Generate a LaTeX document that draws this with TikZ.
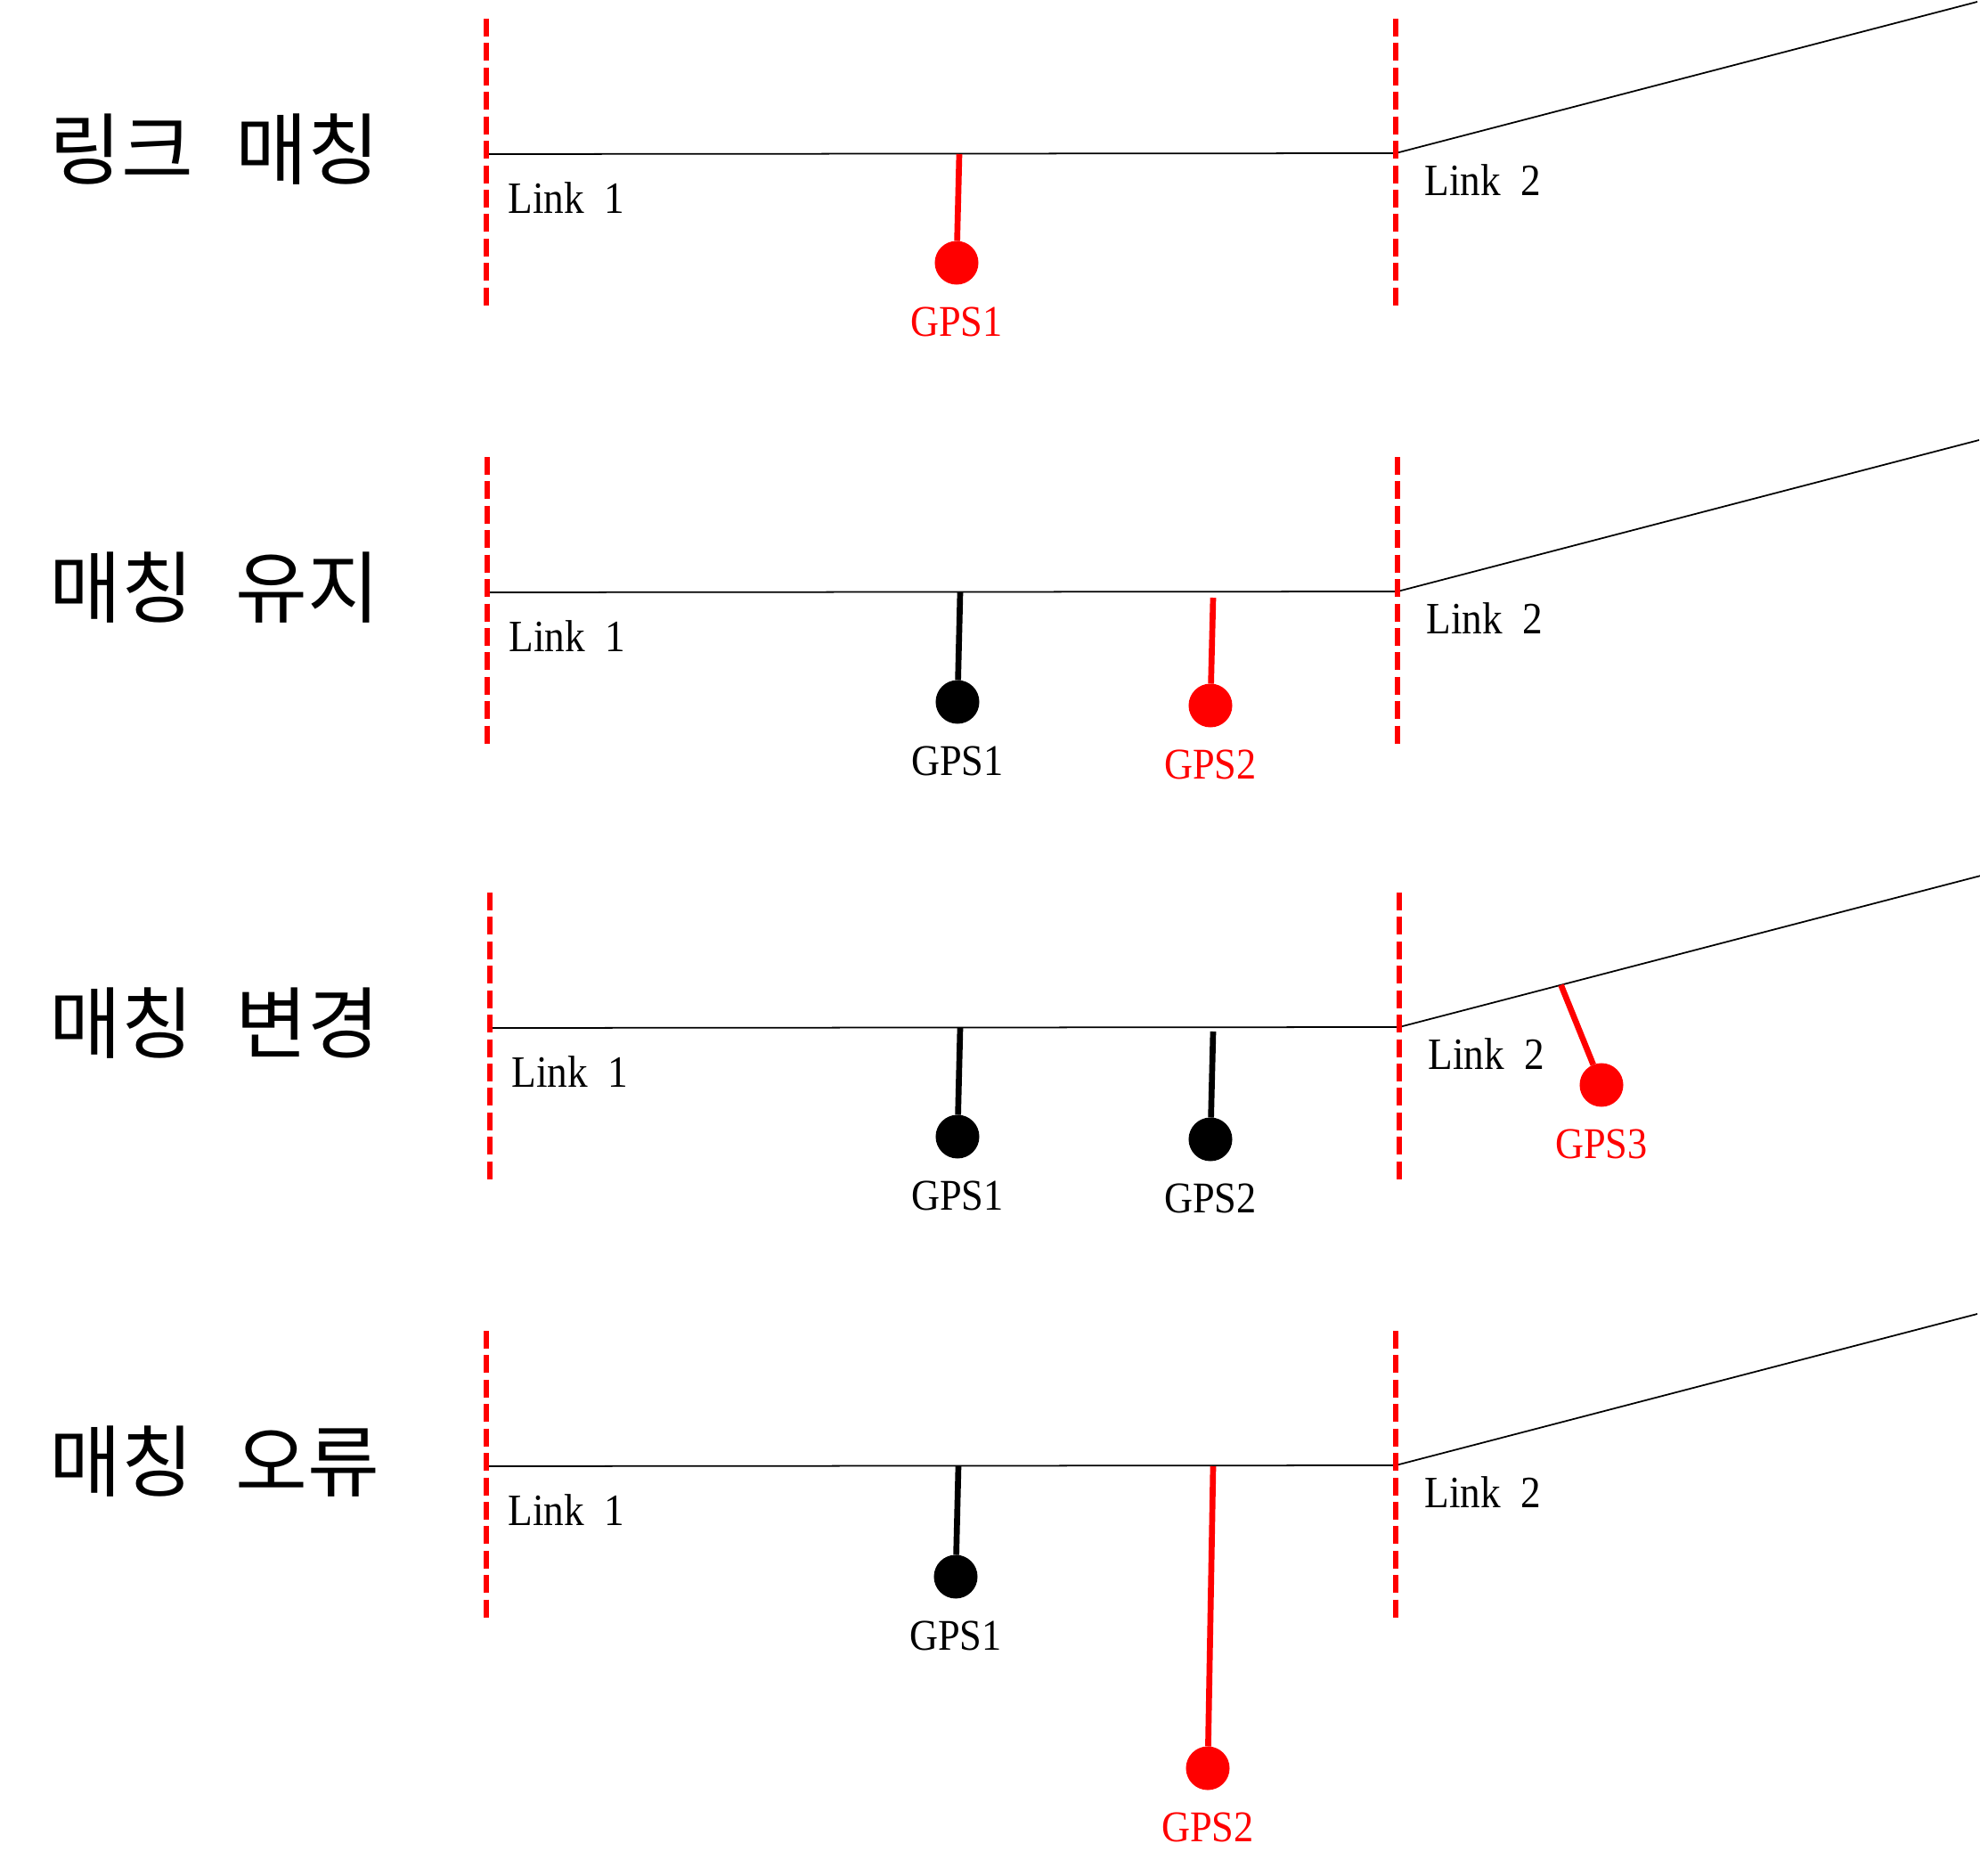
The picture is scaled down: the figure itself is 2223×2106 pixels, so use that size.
\documentclass[tikz,border=0pt]{standalone}
\usepackage{fontspec}
\setmainfont{Liberation Serif}[FakeStretch=0.9]
\newfontfamily\hangul{Noto Sans CJK KR}
\usetikzlibrary{positioning,calc}

\begin{document}
\begin{tikzpicture}[x=0.01cm, y=-0.01cm,
    linkline/.style={line width=0.5pt},
    cutline/.style={red, line width=1.9pt, dash pattern=on 5.7pt off 2.1pt},
    gpsstem/.style={line width=1.9pt},
    gpsdot/.style={circle, fill, inner sep=0pt, outer sep=0pt, minimum size=0.49cm},
    gpslbl/.style={inner sep=0pt, font=\fontsize{14}{16}\selectfont},
    linklbl/.style={inner sep=0pt, font=\fontsize{14.3}{16}\selectfont},
    paneltitle/.style={inner sep=0pt, anchor=west, font=\hangul\fontsize{25}{28}\selectfont}]
  \useasboundingbox (0,0) rectangle (2223,2106);

  % Links and link borders of each panel
  \foreach \i/\y/\xl/\xr/\ta/\tb in {1/173/546/1567/링크/매칭,
                                     2/665/547/1569/매칭/유지,
                                     3/1154/550/1571/매칭/변경,
                                     4/1646/546/1567/매칭/오류}
  {
    \node[paneltitle] (t\i) at (55,\y-5) {\ta\hspace{0.47cm}\tb};
    \coordinate (a\i) at (\xl,\y);
    \coordinate (b\i) at (\xr,\y-1);
    \coordinate (e\i) at (\xr+653,\y-171);
    \draw[linkline] (a\i) -- (b\i) -- (e\i);
    \draw[cutline] (\xl,\y-152) -- (\xl,\y+170);
    \draw[cutline] (\xr,\y-152) -- (\xr,\y+170);
    \node[linklbl, below right=0.31cm and 0.24cm of a\i] (la\i) {Link\ \ 1};
    \node[linklbl, below right=0.12cm and 0.32cm of b\i] (lb\i) {Link\ \ 2};
  }

  % 링크 매칭
  \coordinate (p11) at (1077,173);
  \node[gpsdot, red] (g11) at (1074,295) {};
  \draw[gpsstem, red] (p11) -- (g11);
  \node[gpslbl, red, below=0.25cm of g11] (n11) {GPS1};

  % 매칭 유지
  \coordinate (p21) at (1078,665);
  \node[gpsdot] (g21) at (1075,788) {};
  \draw[gpsstem] (p21) -- (g21);
  \node[gpslbl, below=0.25cm of g21] (n21) {GPS1};
  \coordinate (p22) at (1362,671);
  \node[gpsdot, red] (g22) at (1359,792) {};
  \draw[gpsstem, red] (p22) -- (g22);
  \node[gpslbl, red, below=0.25cm of g22] (n22) {GPS2};

  % 매칭 변경
  \coordinate (p31) at (1078,1154);
  \node[gpsdot] (g31) at (1075,1276) {};
  \draw[gpsstem] (p31) -- (g31);
  \node[gpslbl, below=0.25cm of g31] (n31) {GPS1};
  \coordinate (p32) at (1362,1158);
  \node[gpsdot] (g32) at (1359,1279) {};
  \draw[gpsstem] (p32) -- (g32);
  \node[gpslbl, below=0.25cm of g32] (n32) {GPS2};
  \coordinate (p33) at ($(b3)!0.278!(e3)$);
  \node[gpsdot, red] (g33) at (1798,1218) {};
  \draw[gpsstem, red] (p33) -- (g33);
  \node[gpslbl, red, below=0.25cm of g33] (n33) {GPS3};

  % 매칭 오류
  \coordinate (p41) at (1076,1646);
  \node[gpsdot] (g41) at (1073,1770) {};
  \draw[gpsstem] (p41) -- (g41);
  \node[gpslbl, below=0.25cm of g41] (n41) {GPS1};
  \coordinate (p42) at (1362,1646);
  \node[gpsdot, red] (g42) at (1356,1985) {};
  \draw[gpsstem, red] (p42) -- (g42);
  \node[gpslbl, red, below=0.25cm of g42] (n42) {GPS2};
\end{tikzpicture}
\end{document}
